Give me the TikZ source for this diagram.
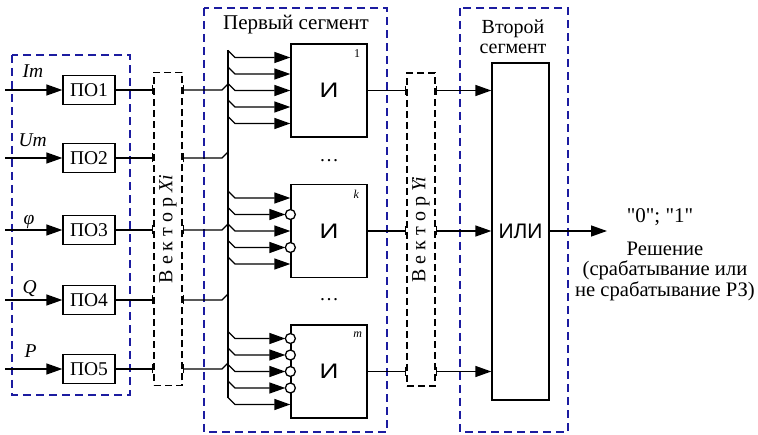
\documentclass[tikz,border=0pt]{standalone}
\usepackage{fontspec}
\usepackage{graphicx}
\setmainfont{Liberation Serif}
\newfontfamily\gatefont{Liberation Sans}
\newfontfamily\quotefont{Liberation Serif}[Ligatures=TeXOff]
\usetikzlibrary{arrows.meta}
\definecolor{segblue}{RGB}{28,28,160}
\tikzset{
	pobox/.style={draw, minimum width=52pt, minimum height=29pt, inner sep=0pt},
	gate/.style={draw, minimum width=76pt, minimum height=93pt, inner sep=0pt, font=\gatefont\fontsize{21}{24}\selectfont},
	vecbox/.style={draw, dash pattern=on 7pt off 4pt, inner sep=0pt, minimum width=28pt, minimum height=313pt},
	veclabel/.style={rotate=90, font=\fontsize{20}{22}\selectfont},
	segbox/.style={draw=segblue, line width=1.5pt, dash pattern=on 8pt off 5pt},
	inv/.style={circle, draw, fill=white, minimum size=10pt, inner sep=0pt},
	gatenum/.style={anchor=north east, font=\fontsize{12}{14}\selectfont, inner sep=0pt},
	bigtext/.style={font=\fontsize{21}{21}\selectfont},
}
\begin{document}
\begin{tikzpicture}[x=1pt, y=-1pt, line width=1.3pt, >={Triangle[length=16pt,width=11pt]}, font=\fontsize{19.5}{21}\selectfont]
	\useasboundingbox (0,0) rectangle (758,435);
	% segments
	\draw[segbox] (12,55) rectangle (130,395);
	\draw[segbox] (204,8) rectangle (387,432);
	\draw[segbox] (460,8) rectangle (568,432);
	\node (t1) at (296,25) [bigtext] {Первый сегмент};
	\node (t2) at (513,37) [align=center, font=\fontsize{20}{20}\selectfont] {Второй\\сегмент};
	% inputs
	\node (po1) at (89,90) [pobox] {ПО1};
	\node (po2) at (89,158) [pobox] {ПО2};
	\node (po3) at (89,230) [pobox] {ПО3};
	\node (po4) at (89,300) [pobox] {ПО4};
	\node (po5) at (89,369) [pobox] {ПО5};
	\node (lIm) at (22,78) [anchor=base west, inner sep=0pt] {\textit{Im}};
	\node (lUm) at (18,147) [anchor=base west, inner sep=0pt] {\textit{Um}};
	\node (lphi) at (23,225) [anchor=base west, inner sep=0pt] {\textit{φ}};
	\node (lQ) at (22,294) [anchor=base west, inner sep=0pt] {\textit{Q}};
	\node (lP) at (24,358) [anchor=base west, inner sep=0pt] {\textit{P}};
	\foreach \p in {po1,po2,po3,po4,po5} {
		\coordinate (in-\p) at (5,0 |- \p);
		\draw[->] (in-\p) -- (\p);
	}
	% vectors
	\node (xi) at (168,229) [vecbox] {};
	\node (xil) at (xi.center) [veclabel] {В\kern5pt е\kern5pt к\kern5pt т\kern5pt о\kern5pt р\kern5pt\textit{Xi}};
	\node (yi) at (421,229.5) [vecbox] {};
	\node (yil) at (yi.center) [veclabel] {В\kern5pt е\kern5pt к\kern5pt т\kern5pt о\kern5pt р\kern5pt\textit{Yi}};
	% gates
	\node (g1) at (329,90.5) [gate] {\scalebox{1.25}[1]{И}};
	\node (gk) at (329,231) [gate] {\scalebox{1.25}[1]{И}};
	\node (gm) at (329,371.5) [gate] {\scalebox{1.25}[1]{И}};
	\node (n1) at ([xshift=-7pt,yshift=-6pt]g1.north east) [gatenum] {1};
	\node (nk) at ([xshift=-8pt,yshift=-6pt]gk.north east) [gatenum] {\textit{k}};
	\node (nm) at ([xshift=-5pt,yshift=-7pt]gm.north east) [gatenum] {\textit{m}};
	\node (d1) at (329,161) {…};
	\node (d2) at (329,300) {…};
	\node (ili) at (520.5,231.5) [draw, minimum width=57pt, minimum height=337pt, inner sep=0pt, font=\gatefont\fontsize{21}{24}\selectfont] {ИЛИ};
	% bus
	\coordinate (bt) at (228,50);
	\coordinate (bb) at (228,398);
	\draw (bt) -- (bb);
	\foreach \p in {po1,po2,po3,po4,po5} {
		\draw[-{Bar[width=9pt]}] (\p.east) -- (\p.east -| xi.west);
		\draw[{Bar[width=9pt]}-] (\p.east -| xi.east) -- ([xshift=-6pt]\p.east -| bt) -- ([yshift=6pt]\p.east -| bt);
	}
	\foreach \s/\sh in {33/0,16.5/0,0/0,-16.5/0,-33/0}
		\draw[->, shorten >=\sh pt] ([yshift=\s pt]g1.west -| bt) ++(0,-7) -- ++(7,7) -- ([yshift=\s pt]g1.west);
	\foreach \s/\sh in {33/0,16.5/5,0/0,-16.5/5,-33/0}
		\draw[->, shorten >=\sh pt] ([yshift=\s pt]gk.west -| bt) ++(0,-7) -- ++(7,7) -- ([yshift=\s pt]gk.west);
	\foreach \s/\sh in {33/5,16.5/5,0/5,-16.5/5,-33/0}
		\draw[->, shorten >=\sh pt] ([yshift=\s pt]gm.west -| bt) ++(0,-7) -- ++(7,7) -- ([yshift=\s pt]gm.west);
	\foreach \g/\s/\c in {gk/16.5/ck2, gk/-16.5/ck4, gm/33/cm1, gm/16.5/cm2, gm/0/cm3, gm/-16.5/cm4}
		\node (\c) at ([yshift=\s pt]\g.west) [inv] {};
	% outputs
	\foreach \g in {g1,gk,gm} {
		\draw[-{Bar[width=9pt]}] (\g.east) -- (\g.east -| yi.west);
		\draw[{Bar[width=9pt]}->] (\g.east -| yi.east) -- (\g.east -| ili.west);
	}
	\coordinate (out) at (607,0 |- gk);
	\draw[->] (ili.east |- gk) -- (out);
	\node (val) at (660,217) [font=\quotefont\fontsize{21}{21}\selectfont] {"0"; "1"};
	\node (dec) at (665,271) [align=center, font=\fontsize{20.6}{20.5}\selectfont] {Решение\\(срабатывание или\\не срабатывание РЗ)};
\end{tikzpicture}
\end{document}
